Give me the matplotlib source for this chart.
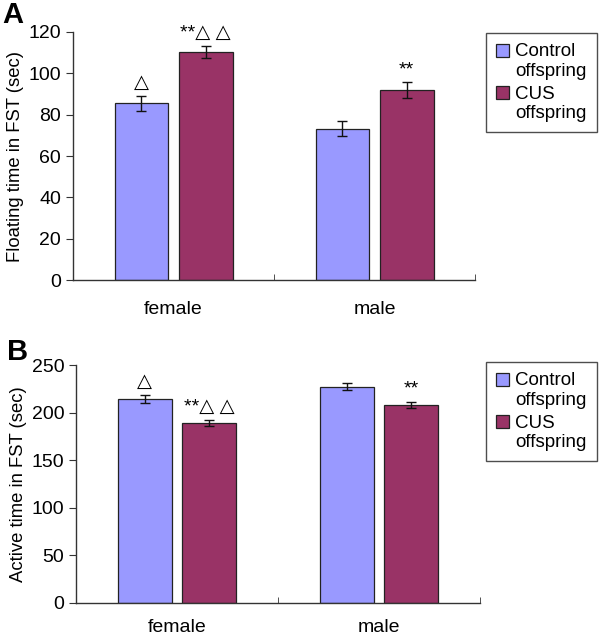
import matplotlib
matplotlib.use('Agg')
import matplotlib.pyplot as plt
from matplotlib.patches import Patch, Rectangle
from matplotlib.legend_handler import HandlerPatch
import numpy as np

plt.rcParams['font.family'] = ['Liberation Sans', 'DejaVu Sans']

groups = ['female', 'male']
series = ['Control\noffspring', 'CUS\noffspring']
colors = ['#9999ff', '#993366']

# panel A: floating time
float_means = [[85.5, 73.2], [110.3, 91.9]]
float_errs = [[3.6, 3.5], [2.9, 3.8]]
float_marks = [['△', ''], ['**△ △', '**']]

# panel B: active time
active_means = [[214.2, 227.2], [189.0, 208.0]]
active_errs = [[3.9, 4.0], [3.0, 3.6]]
active_marks = [['△', ''], ['**△ △', '**']]

fig = plt.figure(figsize=(6, 6.36), dpi=100)
axA = fig.add_axes([0.1217, 0.5597, 0.67, 0.39])
axB = fig.add_axes([0.1267, 0.0524, 0.6733, 0.3737])


def draw(ax, means, errs, marks, ymax, step, ylabel, xpad):
    x = np.arange(len(groups))
    width = 0.267
    offsets = [-0.16, 0.16]
    for i in range(len(series)):
        ax.bar(x + offsets[i], means[i], width, color=colors[i],
               edgecolor='#222222', linewidth=0.9, label=series[i], zorder=2)
        ax.errorbar(x + offsets[i], means[i], yerr=errs[i], fmt='none',
                    ecolor='#111111', elinewidth=1, capsize=3.5, capthick=1,
                    zorder=3)
        for j in range(len(groups)):
            if marks[i][j]:
                ax.annotate(marks[i][j], (x[j] + offsets[i], means[i][j] + errs[i][j]),
                            xytext=(0, 3), textcoords='offset points',
                            ha='center', va='bottom', fontsize=14)
    ax.set_xlim(-0.5, 1.5)
    ax.set_ylim(0, ymax)
    ax.set_yticks(np.arange(0, ymax + 1, step))
    ax.set_xticks(x)
    ax.set_xticklabels(groups, fontsize=14)
    ax.set_xticks([0.5, 1.5], minor=True)
    ax.tick_params(axis='x', which='major', length=0, pad=xpad)
    ax.tick_params(axis='x', which='minor', direction='in', length=4,
                   color='#333333')
    ax.tick_params(axis='y', labelsize=14, length=5, color='#333333')
    ax.set_ylabel(ylabel, fontsize=13.3, labelpad=3)
    for s in ['top', 'right']:
        ax.spines[s].set_visible(False)
    for s in ['left', 'bottom']:
        ax.spines[s].set_color('#333333')
        ax.spines[s].set_linewidth(1)


draw(axA, float_means, float_errs, float_marks, 120, 20, 'Floating time in FST (sec)', 15)
draw(axB, active_means, active_errs, active_marks, 250, 50, 'Active time in FST (sec)', 12)


# legend square sits next to the first line of the label
def top_patch(legend, orig_handle, xdescent, ydescent, width, height, fontsize):
    return Rectangle((-xdescent, -ydescent + 0.6 * fontsize), width, height)


for ax, top in [(axA, 33), (axB, 362)]:
    handles = [Patch(facecolor=colors[i], edgecolor='#222222', linewidth=0.9,
                     label=series[i]) for i in range(len(series))]
    leg = fig.legend(handles=handles, loc='upper left',
                     bbox_to_anchor=(486 / 600, 1 - top / 636),
                     bbox_transform=fig.transFigure, borderaxespad=0,
                     fontsize=13.5, frameon=True, fancybox=False,
                     handlelength=0.65, handleheight=0.65, handletextpad=0.35,
                     labelspacing=0.3, borderpad=0.55,
                     handler_map={Patch: HandlerPatch(patch_func=top_patch)})
    leg.get_frame().set_edgecolor('#222222')
    leg.get_frame().set_linewidth(1)
    for t in leg.get_texts():
        t.set_linespacing(1.2)

fig.text(0.003, 0.999, 'A', fontsize=21, fontweight='bold', va='top', ha='left')
fig.text(0.012, 0.468, 'B', fontsize=21, fontweight='bold', va='top', ha='left')

fig.savefig('out.png', dpi=100)
